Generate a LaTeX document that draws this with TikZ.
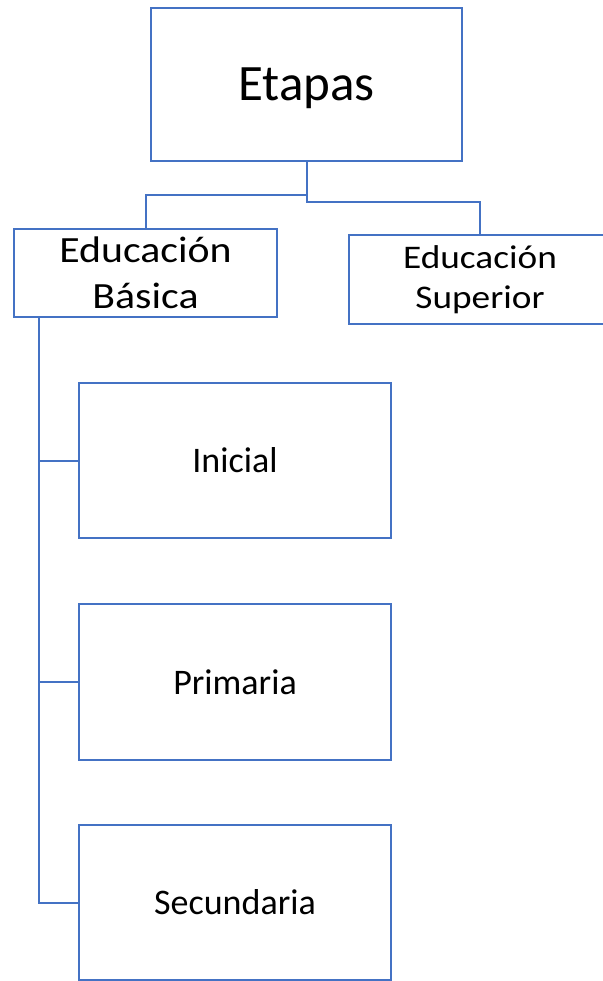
\documentclass[tikz,border=0pt]{standalone}
\usepackage{fontspec}
\setmainfont{Carlito}
\newfontfamily\widefont[FakeStretch=1.13]{Carlito}
\usetikzlibrary{calc}
\definecolor{officeblue}{HTML}{4472C4}
\tikzset{
  boxnode/.style={draw=officeblue, line width=2pt, rectangle, inner sep=0pt, align=center, text=black},
  conn/.style={draw=officeblue, line width=2pt}
}
\begin{document}
\begin{tikzpicture}[x=1pt, y=-1pt]
\useasboundingbox (0,0) rectangle (602,981);
\node[boxnode, minimum width=311pt, minimum height=153pt, text depth=0pt, font=\fontsize{51}{60}\selectfont] (etapas) at (306.5,84.5) {Etapas};
\node[boxnode, minimum width=263pt, minimum height=88pt, font=\widefont\fontsize{37}{46}\selectfont] (basica) at (145.5,273) {Educación\\Básica};
\node[boxnode, minimum width=262pt, minimum height=89pt, font=\widefont\fontsize{33}{40}\selectfont] (superior) at (480,279.5) {Educación\\Superior};
\node[boxnode, minimum width=312pt, minimum height=155pt, font=\fontsize{36}{44}\selectfont] (inicial) at (235,460.5) {Inicial};
\node[boxnode, minimum width=312pt, minimum height=156pt, font=\fontsize{36}{44}\selectfont] (primaria) at (235,682) {Primaria};
\node[boxnode, minimum width=312pt, minimum height=155pt, font=\fontsize{36}{44}\selectfont] (secundaria) at (235,902.5) {Secundaria};
\coordinate (j1) at (306.5,195);
\coordinate (j2) at (306.5,202);
\draw[conn] (etapas.south) -- (j1) -| (basica.north);
\draw[conn] (etapas.south) -- (j2) -| (superior.north);
\coordinate (spine) at ([xshift=26pt]basica.south west);
\draw[conn] (spine) |- (secundaria.west);
\draw[conn] (spine |- inicial.west) -- (inicial.west);
\draw[conn] (spine |- primaria.west) -- (primaria.west);
\end{tikzpicture}
\end{document}
